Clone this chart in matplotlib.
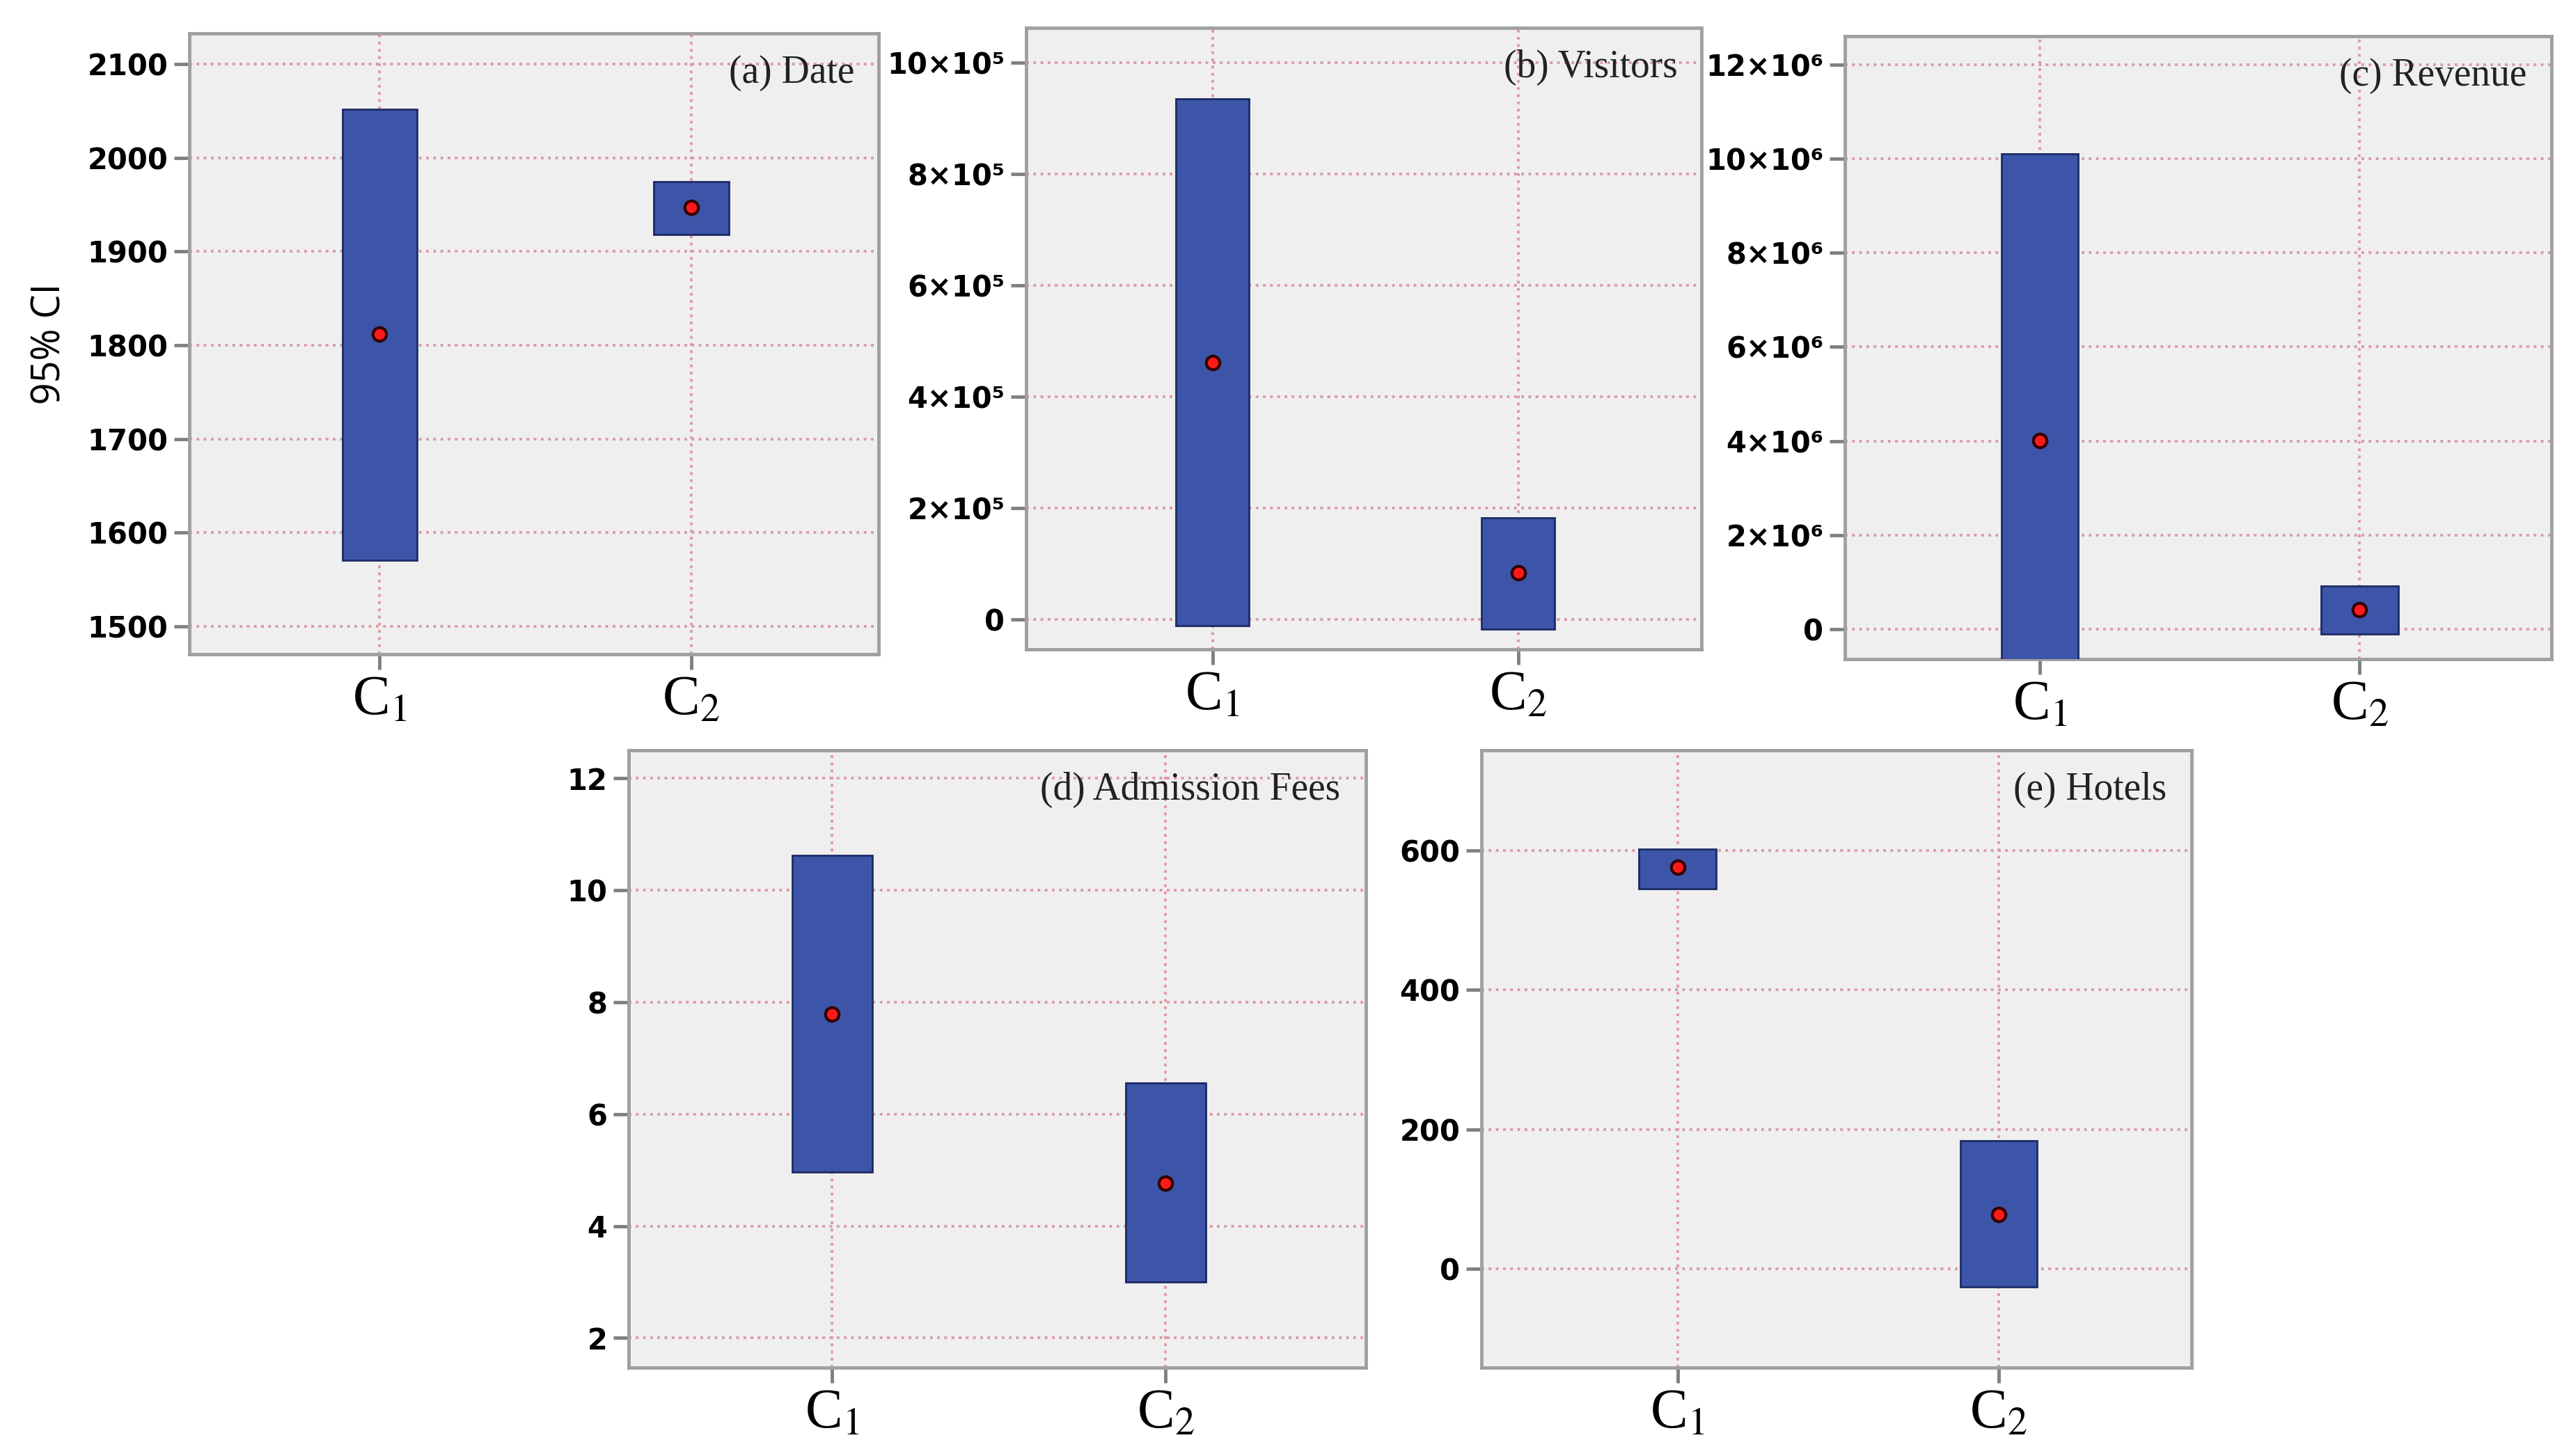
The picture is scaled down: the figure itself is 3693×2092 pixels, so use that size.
import numpy as np
import matplotlib
matplotlib.use("Agg")
import matplotlib.pyplot as plt

# confidence intervals (low, high) and means for the two clusters
groups = ["C$_1$", "C$_2$"]

date_lo = [1570, 1918]
date_hi = [2052, 1975]
date_mean = [1812, 1947]

vis_lo = [-0.12e5, -0.18e5]
vis_hi = [9.35e5, 1.82e5]
vis_mean = [4.61e5, 0.83e5]

rev_lo = [-1.5e6, -0.1e6]
rev_hi = [10.1e6, 0.92e6]
rev_mean = [4.01e6, 0.42e6]

fee_lo = [4.97, 3.0]
fee_hi = [10.62, 6.56]
fee_mean = [7.79, 4.76]

hot_lo = [545, -26]
hot_hi = [602, 184]
hot_mean = [576, 78]

titles = ["(a) Date", "(b) Visitors", "(c) Revenue", "(d) Admission Fees", "(e) Hotels"]

W, H = 3693, 2092
fig = plt.figure(figsize=(W / 100, H / 100), dpi=100)
fig.patch.set_facecolor("white")
plt.rcParams["mathtext.fontset"] = "stix"

def px_axes(l, r, t, b):
    return fig.add_axes([l / W, 1 - b / H, (r - l) / W, (b - t) / H])

tickfont = ["Liberation Sans Narrow", "DejaVu Sans"]

def panel(ax, lo, hi, mean, title, ylim, yticks, ylabels):
    x = np.arange(1, len(groups) + 1)
    lo = np.array(lo); hi = np.array(hi)
    ax.set_facecolor("#efefef")
    ax.bar(x, hi - lo, bottom=lo, width=0.24, color="#3d55a8",
           edgecolor="#1c2a66", linewidth=2, zorder=3)
    ax.plot(x, mean, "o", color="#ff1a1a", markeredgecolor="#330000",
            markersize=14, markeredgewidth=3, zorder=4)
    ax.set_xlim(0.39, 2.60)
    ax.set_ylim(*ylim)
    ax.set_xticks(x)
    ax.set_xticklabels(groups, fontsize=58, family="Liberation Serif")
    ax.set_yticks(yticks)
    ax.set_yticklabels(ylabels, fontsize=30, fontweight="bold", family=tickfont)
    ax.grid(True, color="#dd9aa4", linestyle=":", linewidth=2.8, zorder=1)
    ax.set_axisbelow(True)
    for s in ax.spines.values():
        s.set_color("#a0a0a0")
        s.set_linewidth(3.5)
    ax.tick_params(axis="both", length=16, width=3.5, color="#808080", pad=6)
    ax.text(0.965, 0.965, title, transform=ax.transAxes, ha="right", va="top",
            fontsize=40, family="Liberation Serif", color="#222222", zorder=5)

ax1 = px_axes(272, 1262, 48, 940)
panel(ax1, date_lo, date_hi, date_mean, titles[0], (1470, 2133),
      [1500, 1600, 1700, 1800, 1900, 2000, 2100],
      ["1500", "1600", "1700", "1800", "1900", "2000", "2100"])
ax1.set_ylabel("95% CI", fontsize=40, family=["Open Sans", "DejaVu Sans"], labelpad=18)

ax2 = px_axes(1474, 2444, 40, 933)
panel(ax2, vis_lo, vis_hi, vis_mean, titles[1], (-0.54e5, 10.62e5),
      [0, 2e5, 4e5, 6e5, 8e5, 10e5],
      ["0", "2×10⁵", "4×10⁵", "6×10⁵", "8×10⁵", "10×10⁵"])

ax3 = px_axes(2650, 3665, 52, 947)
panel(ax3, rev_lo, rev_hi, rev_mean, titles[2], (-0.63e6, 12.6e6),
      [0, 2e6, 4e6, 6e6, 8e6, 10e6, 12e6],
      ["0", "2×10⁶", "4×10⁶", "6×10⁶", "8×10⁶", "10×10⁶", "12×10⁶"])

ax4 = px_axes(903, 1962, 1078, 1965)
panel(ax4, fee_lo, fee_hi, fee_mean, titles[3], (1.47, 12.5),
      [2, 4, 6, 8, 10, 12], ["2", "4", "6", "8", "10", "12"])

ax5 = px_axes(2128, 3148, 1078, 1965)
panel(ax5, hot_lo, hot_hi, hot_mean, titles[4], (-142, 744),
      [0, 200, 400, 600], ["0", "200", "400", "600"])

fig.savefig("out.png", dpi=100)
